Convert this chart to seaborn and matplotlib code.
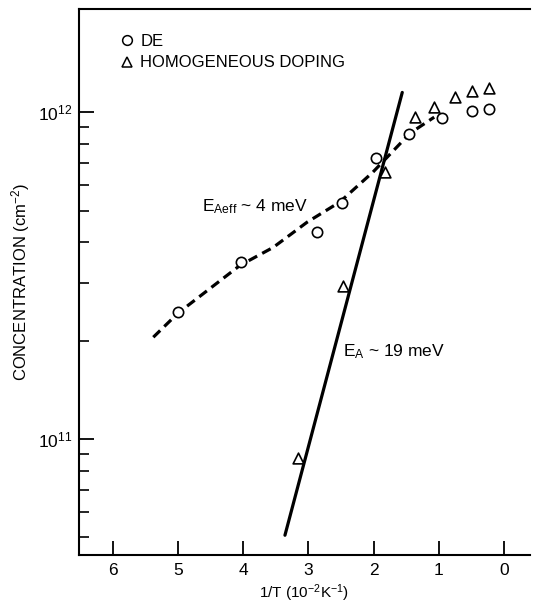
import numpy as np
import pandas as pd
import matplotlib
matplotlib.use("Agg")
import matplotlib.pyplot as plt
import seaborn as sns
from matplotlib.lines import Line2D

# ---- data ----
de_x = [5.00, 4.03, 2.87, 2.48, 1.96, 1.46, 0.95, 0.49, 0.23]
de_y = [2.44e11, 3.48e11, 4.30e11, 5.27e11, 7.23e11, 8.57e11, 9.59e11, 1.01e12, 1.02e12]

hd_x = [3.16, 2.47, 1.83, 1.37, 1.07, 0.75, 0.49, 0.23]
hd_y = [8.75e10, 2.94e11, 6.56e11, 9.66e11, 1.04e12, 1.11e12, 1.16e12, 1.19e12]

fit_ea_x = [3.36, 1.56]
fit_ea_y = [5.08e10, 1.15e12]

fit_eff_x = [5.38, 5.00, 4.05, 3.54, 3.02, 2.52, 2.01, 1.44, 1.07]
fit_eff_y = [2.05e11, 2.43e11, 3.40e11, 3.86e11, 4.61e11, 5.31e11, 6.56e11, 8.63e11, 9.66e11]

x_ticks = [6, 5, 4, 3, 2, 1, 0]
y_ticks = [1e11, 1e12]
y_ticklabels = ["10$^{11}$", "10$^{12}$"]
y_minor_ticks = [5e10, 6e10, 7e10, 8e10, 9e10,
                 2e11, 3e11, 4e11, 5e11, 6e11, 7e11, 8e11, 9e11]

sns.set_style("white")
plt.rcParams["font.family"] = ["Liberation Sans", "DejaVu Sans"]
plt.rcParams["mathtext.fontset"] = "custom"
plt.rcParams["mathtext.rm"] = "Liberation Sans"
plt.rcParams["mathtext.it"] = "Liberation Sans"
plt.rcParams["mathtext.default"] = "regular"
plt.rcParams["text.color"] = "black"
plt.rcParams["axes.labelcolor"] = "black"
plt.rcParams["xtick.color"] = "black"
plt.rcParams["ytick.color"] = "black"

fig = plt.figure(figsize=(5.37, 6.06), dpi=100)
ax = fig.add_axes([79/537, 1-555/606, (530-79)/537, (555-9)/606])

de_df = pd.DataFrame({"x": de_x, "y": de_y})
hd_df = pd.DataFrame({"x": hd_x, "y": hd_y})
ea_df = pd.DataFrame({"x": fit_ea_x, "y": fit_ea_y})
eff_df = pd.DataFrame({"x": fit_eff_x, "y": fit_eff_y})

sns.lineplot(data=eff_df, x="x", y="y", sort=False, estimator=None, ax=ax,
             color="black", lw=2.3, linestyle=(0, (3.0, 1.8)))
sns.lineplot(data=ea_df, x="x", y="y", sort=False, estimator=None, ax=ax,
             color="black", lw=2.3)
sns.scatterplot(data=de_df, x="x", y="y", ax=ax, marker="o", s=55,
                facecolor="white", edgecolor="black", linewidth=1.2, zorder=3)
sns.scatterplot(data=hd_df, x="x", y="y", ax=ax, marker="^", s=60,
                facecolor="white", edgecolor="black", linewidth=1.2, zorder=3)

ax.set_yscale("log")
ax.set_xlim(6.52, -0.40)
ax.set_ylim(4.42e10, 2.07e12)

ax.set_xticks(x_ticks)
ax.set_xticklabels([str(t) for t in x_ticks])
ax.set_yticks(y_ticks)
ax.set_yticklabels(y_ticklabels)
ax.yaxis.set_minor_locator(matplotlib.ticker.FixedLocator(y_minor_ticks))
ax.yaxis.set_minor_formatter(matplotlib.ticker.NullFormatter())

ax.tick_params(axis="x", which="major", direction="in", length=10, width=1.3,
               bottom=True, top=False, labelsize=12.5, pad=6)
ax.tick_params(axis="y", which="major", direction="in", length=11, width=1.3,
               left=True, right=False, labelsize=12.5, pad=5)
ax.tick_params(axis="y", which="minor", direction="in", length=7, width=1.2,
               left=True, right=False)
ax.tick_params(axis="x", which="minor", bottom=False, top=False)

for side in ["left", "top", "bottom"]:
    ax.spines[side].set_visible(True)
    ax.spines[side].set_linewidth(1.5)
    ax.spines[side].set_color("black")
ax.spines["right"].set_visible(False)

ax.set_xlabel("1/T (10$^{-2}$K$^{-1}$)", fontsize=11, labelpad=3)
ax.set_ylabel("CONCENTRATION (cm$^{-2}$)", fontsize=12, labelpad=4)

ax.text(202, 606 - 207, "E$_{Aeff}$ ~ 4 meV", transform=None, fontsize=12.5,
        va="center", ha="left")
ax.text(343, 606 - 352, "E$_A$ ~ 19 meV", transform=None, fontsize=12.5,
        va="center", ha="left")

handles = [
    Line2D([], [], marker="o", linestyle="none", markerfacecolor="white",
           markeredgecolor="black", markersize=7, markeredgewidth=1.1, label="DE"),
    Line2D([], [], marker="^", linestyle="none", markerfacecolor="white",
           markeredgecolor="black", markersize=7.5, markeredgewidth=1.1,
           label="HOMOGENEOUS DOPING"),
]
ax.legend(handles=handles, loc="upper left", bbox_to_anchor=(0.077, 0.967),
          frameon=False, fontsize=12, handlelength=0.8, handletextpad=0.4,
          labelspacing=0.4, borderaxespad=0)

fig.savefig("out.png", dpi=100, facecolor="white")
